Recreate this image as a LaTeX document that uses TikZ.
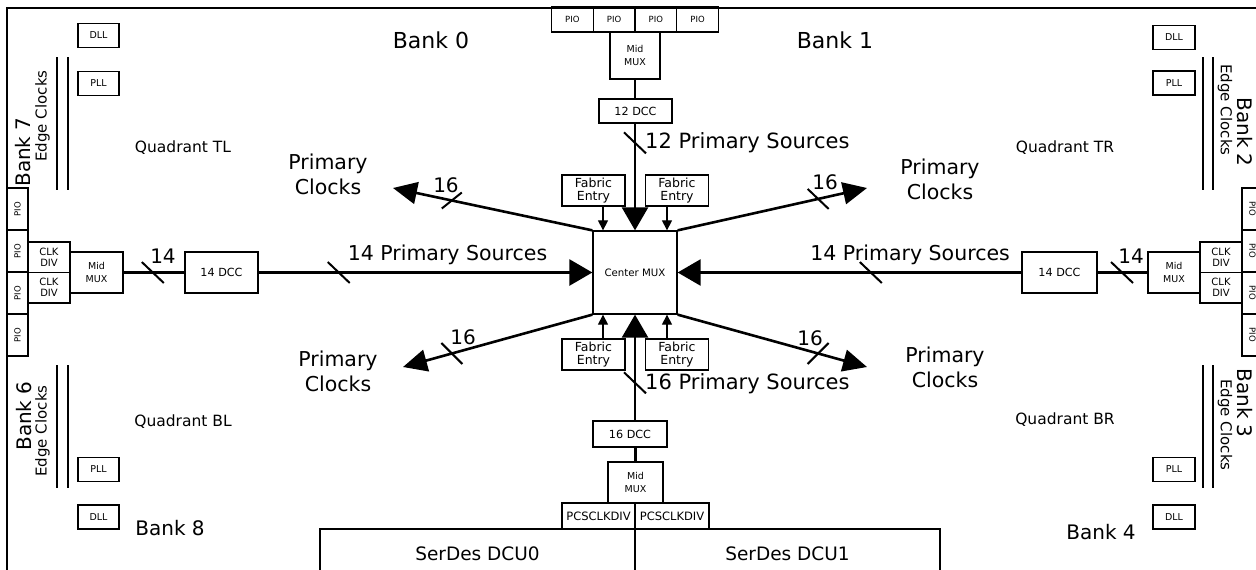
\documentclass[tikz,border=0pt]{standalone}
\usepackage{fontspec}
\setmainfont{DejaVu Sans}
\usetikzlibrary{arrows.meta,calc}
\newcommand\fsz[2]{\fontsize{#1pt}{#2pt}\selectfont}
\begin{document}
\begin{tikzpicture}[x=1pt,y=-1pt,
  box/.style={draw,line width=1.3pt,inner sep=0pt,align=center},
  lbl/.style={inner sep=0pt,align=center},
  thickln/.style={line width=2.6pt},
  bigarrow/.style={thickln,-{Triangle[length=23pt,width=26pt]}},
  diagarrow/.style={thickln,-{Triangle[length=24pt,width=22pt]}},
  smallarrow/.style={line width=1.2pt,-{Triangle[length=10pt,width=10pt]}},
  tick/.style={line width=2pt},
  edgeln/.style={line width=1.3pt},
  pio/.style={box,minimum width=42pt,minimum height=21pt,font=\fsz{8.5}{10}},
  tiny/.style={box,font=\fsz{9.5}{13.5}},
  dcc/.style={box,font=\fsz{11.2}{13}},
  fab/.style={box,minimum width=63pt,minimum height=31pt,font=\fsz{12.5}{13.5}},
  clk/.style={box,minimum width=42pt,minimum height=30.5pt,font=\fsz{10}{11}},
  pll/.style={box,minimum width=41pt,minimum height=24pt,font=\fsz{9.5}{11}},
  big/.style={lbl,font=\fsz{20}{25}},
  bank/.style={lbl,font=\fsz{22}{26}},
  quad/.style={lbl,font=\fsz{15.5}{18}},
  ec/.style={lbl,font=\fsz{15}{18}},
  src/.style={lbl,font=\fsz{21}{24}},
]
\useasboundingbox (0,0) rectangle (1256,570);
\clip (0,0) rectangle (1256,570);
% outer border
\draw[line width=1.5pt] (1262,8) -- (7,8) -- (7,576);

% ---------- top ----------
\node[box,minimum width=41.75pt,minimum height=25pt,font=\fsz{8.5}{10}] (pioT1) at (572.4,19.5) {PIO};
\node[box,minimum width=41.75pt,minimum height=25pt,font=\fsz{8.5}{10}] (pioT2) at (614.1,19.5) {PIO};
\node[box,minimum width=41.75pt,minimum height=25pt,font=\fsz{8.5}{10}] (pioT3) at (655.9,19.5) {PIO};
\node[box,minimum width=41.75pt,minimum height=25pt,font=\fsz{8.5}{10}] (pioT4) at (697.6,19.5) {PIO};
\node[tiny,minimum width=50pt,minimum height=47pt] (midT) at (635,55.5) {Mid\\MUX};
\node[dcc,minimum width=73pt,minimum height=24pt] (dccT) at (635.5,111) {12 DCC};

% ---------- center ----------
\node[box,minimum width=84pt,minimum height=83pt,font=\fsz{10.2}{12}] (cm) at (635,272.5) {Center MUX};
\node[fab] (fabTL) at (593.5,190.5) {Fabric\\Entry};
\node[fab] (fabTR) at (677,190.5) {Fabric\\Entry};
\node[fab] (fabBL) at (593.5,354.5) {Fabric\\Entry};
\node[fab] (fabBR) at (677,354.5) {Fabric\\Entry};

\coordinate (fa1) at ([xshift=9.5pt]fabTL.south);
\coordinate (fa2) at ([xshift=-10pt]fabTR.south);
\coordinate (fa3) at ([xshift=9.5pt]fabBL.north);
\coordinate (fa4) at ([xshift=-10pt]fabBR.north);
\draw[smallarrow] (fa1) -- (fa1 |- cm.north);
\draw[smallarrow] (fa2) -- (fa2 |- cm.north);
\draw[smallarrow] (fa3) -- (fa3 |- cm.south);
\draw[smallarrow] (fa4) -- (fa4 |- cm.south);

% top vertical
\draw[thickln] (midT.south) -- (midT.south |- dccT.north);
\draw[bigarrow] (dccT.south -| cm.north) -- (cm.north);
\coordinate (tS) at ($(dccT.south -| cm.north)!0.18!(cm.north)$);
\draw[tick] ($(tS)+(-11,-10.5)$) -- ($(tS)+(11,10.5)$);
\node[src,anchor=west] (ps12) at (645,143) {12 Primary Sources};

% ---------- bottom ----------
\node[dcc,minimum width=74pt,minimum height=26pt] (dccB) at (630,434) {16 DCC};
\node[tiny,minimum width=55pt,minimum height=41pt] (midB) at (635.5,482.5) {Mid\\MUX};
\node[box,minimum width=73pt,minimum height=26pt,font=\fsz{11.5}{13}] (pcsL) at (598.5,516) {PCSCLKDIV};
\node[box,minimum width=74pt,minimum height=26pt,font=\fsz{11.5}{13}] (pcsR) at (672,516) {PCSCLKDIV};
\node[box,minimum width=315pt,minimum height=50pt,font=\fsz{18.5}{22}] (sd0) at (477.5,554) {SerDes DCU0};
\node[box,minimum width=305pt,minimum height=50pt,font=\fsz{18.5}{22}] (sd1) at (787.5,554) {SerDes DCU1};
\draw[thickln] (midB.north) -- (midB.north |- dccB.south);
\coordinate (bB) at (cm.south |- dccB.north);
\draw[bigarrow] (bB) -- (cm.south);
\coordinate (bS) at ($(bB)!0.355!(cm.south)$);
\draw[tick] ($(bS)+(-11,-10.5)$) -- ($(bS)+(11,10.5)$);
\node[src,anchor=west] (ps16) at (645,384) {16 Primary Sources};

% ---------- left ----------
\node[pio,rotate=90] (pioL1) at (17.5,209) {PIO};
\node[pio,rotate=90] (pioL2) at (17.5,251) {PIO};
\node[pio,rotate=90] (pioL3) at (17.5,293) {PIO};
\node[pio,rotate=90] (pioL4) at (17.5,335) {PIO};
\node[clk] (clkL1) at (49,257.25) {CLK\\DIV};
\node[clk] (clkL2) at (49,287.75) {CLK\\DIV};
\node[tiny,minimum width=53pt,minimum height=41pt] (midL) at (96.5,272.5) {Mid\\MUX};
\node[dcc,minimum width=73pt,minimum height=41pt] (dccL) at (221.5,272.5) {14 DCC};
\draw[thickln] (midL.east) -- (dccL.west);
\draw[bigarrow] (dccL.east) -- (cm.west);
\coordinate (lS1) at ($(midL.east)!0.48!(dccL.west)$);
\draw[tick] ($(lS1)+(-11,-10.5)$) -- ($(lS1)+(11,10.5)$);
\coordinate (lS2) at ($(dccL.east)!0.24!(cm.west)$);
\draw[tick] ($(lS2)+(-11,-10.5)$) -- ($(lS2)+(11,10.5)$);
\node[big] (n14l) at (163,256) {14};
\node[lbl,font=\fsz{20.5}{24}] (ps14l) at (447.5,255) {14 Primary Sources};

% ---------- right ----------
\node[pio,rotate=-90] (pioR1) at (1252.5,209) {PIO};
\node[pio,rotate=-90] (pioR2) at (1252.5,251) {PIO};
\node[pio,rotate=-90] (pioR3) at (1252.5,293) {PIO};
\node[pio,rotate=-90] (pioR4) at (1252.5,335) {PIO};
\node[clk] (clkR1) at (1221,257.25) {CLK\\DIV};
\node[clk] (clkR2) at (1221,287.75) {CLK\\DIV};
\node[tiny,minimum width=52pt,minimum height=41pt] (midR) at (1174,272.5) {Mid\\MUX};
\node[dcc,minimum width=75pt,minimum height=41pt] (dccR) at (1059.5,272.5) {14 DCC};
\draw[thickln] (midR.west) -- (dccR.east);
\draw[bigarrow] (dccR.west) -- (cm.east);
\coordinate (rS1) at ($(dccR.east)!0.49!(midR.west)$);
\draw[tick] ($(rS1)+(-11,-10.5)$) -- ($(rS1)+(11,10.5)$);
\coordinate (rS2) at ($(cm.east)!0.562!(dccR.west)$);
\draw[tick] ($(rS2)+(-11,-10.5)$) -- ($(rS2)+(11,10.5)$);
\node[big] (n14r) at (1131,256) {14};
\node[lbl,anchor=east,font=\fsz{20.5}{24}] (ps14r) at (1010,255) {14 Primary Sources};

% ---------- diagonal primary clocks ----------
\coordinate (tlTip) at (393,188);
\coordinate (blTip) at (403,367);
\coordinate (trTip) at (867,188);
\coordinate (brTip) at (867,367);
\draw[diagarrow] (cm.north west) -- (tlTip);
\draw[diagarrow] (cm.south west) -- (blTip);
\draw[diagarrow] (cm.north east) -- (trTip);
\draw[diagarrow] (cm.south east) -- (brTip);
\coordinate (tlS) at ($(cm.north west)!0.705!(tlTip)$);
\coordinate (blS) at ($(cm.south west)!0.742!(blTip)$);
\coordinate (trS) at ($(cm.north east)!0.742!(trTip)$);
\coordinate (brS) at ($(cm.south east)!0.742!(brTip)$);
\draw[tick] ($(tlS)+(-10,8)$) -- ($(tlS)+(10,-8)$);
\draw[tick] ($(blS)+(-10.5,-10.5)$) -- ($(blS)+(10.5,10.5)$);
\draw[tick] ($(trS)+(-10.5,-10)$) -- ($(trS)+(10.5,10)$);
\draw[tick] ($(brS)+(-10.5,10.5)$) -- ($(brS)+(10.5,-10.5)$);
\node[big] (n16tl) at (446,185) {16};
\node[big] (n16bl) at (463,337) {16};
\node[big] (n16tr) at (825,182) {16};
\node[big] (n16br) at (810,338) {16};
\node[lbl,font=\fsz{20.5}{25}] (pctl) at (328,174) {Primary\\Clocks};
\node[lbl,font=\fsz{20.5}{25}] (pcbl) at (338,371) {Primary\\Clocks};
\node[lbl,font=\fsz{20.5}{25}] (pctr) at (940,179) {Primary\\Clocks};
\node[lbl,font=\fsz{20.5}{25}] (pcbr) at (945,367) {Primary\\Clocks};

% ---------- corners ----------
\node[pll] (dllTL) at (98.5,35.5) {DLL};
\node[pll] (pllTL) at (98.5,83.5) {PLL};
\node[pll] (pllBL) at (98.5,469.5) {PLL};
\node[pll] (dllBL) at (98.5,517) {DLL};
\node[pll,minimum width=42pt] (dllTR) at (1174,37.5) {DLL};
\node[pll,minimum width=42pt] (pllTR) at (1174,83) {PLL};
\node[pll,minimum width=42pt] (pllBR) at (1174,469.5) {PLL};
\node[pll,minimum width=42pt] (dllBR) at (1174,517) {DLL};

\draw[edgeln] (57,57) -- (57,190);
\draw[edgeln] (68,57) -- (68,190);
\draw[edgeln] (57,365) -- (57,488);
\draw[edgeln] (68,365) -- (68,488);
\draw[edgeln] (1203,57) -- (1203,190);
\draw[edgeln] (1213,57) -- (1213,190);
\draw[edgeln] (1203,365) -- (1203,488);
\draw[edgeln] (1213,365) -- (1213,488);

\node[big,rotate=90] (b7) at (23,152) {Bank 7};
\node[ec,rotate=90] (ec7) at (42.5,116) {Edge Clocks};
\node[big,rotate=90] (b6) at (24,416) {Bank 6};
\node[ec,rotate=90] (ec6) at (42.5,431) {Edge Clocks};
\node[big,rotate=-90] (b2) at (1245,132) {Bank 2};
\node[ec,rotate=-90] (ec2) at (1225,110) {Edge Clocks};
\node[big,rotate=-90] (b3) at (1245,403) {Bank 3};
\node[ec,rotate=-90] (ec3) at (1225,425) {Edge Clocks};

\node[bank] (b0) at (431,40) {Bank 0};
\node[bank] (b1) at (835,40) {Bank 1};
\node[big] (b8) at (170,528) {Bank 8};
\node[big] (b4) at (1101,532) {Bank 4};

\node[quad] (qtl) at (183,148) {Quadrant TL};
\node[quad] (qtr) at (1065,148) {Quadrant TR};
\node[quad] (qbl) at (183,422) {Quadrant BL};
\node[quad] (qbr) at (1065,420) {Quadrant BR};
\end{tikzpicture}
\end{document}
